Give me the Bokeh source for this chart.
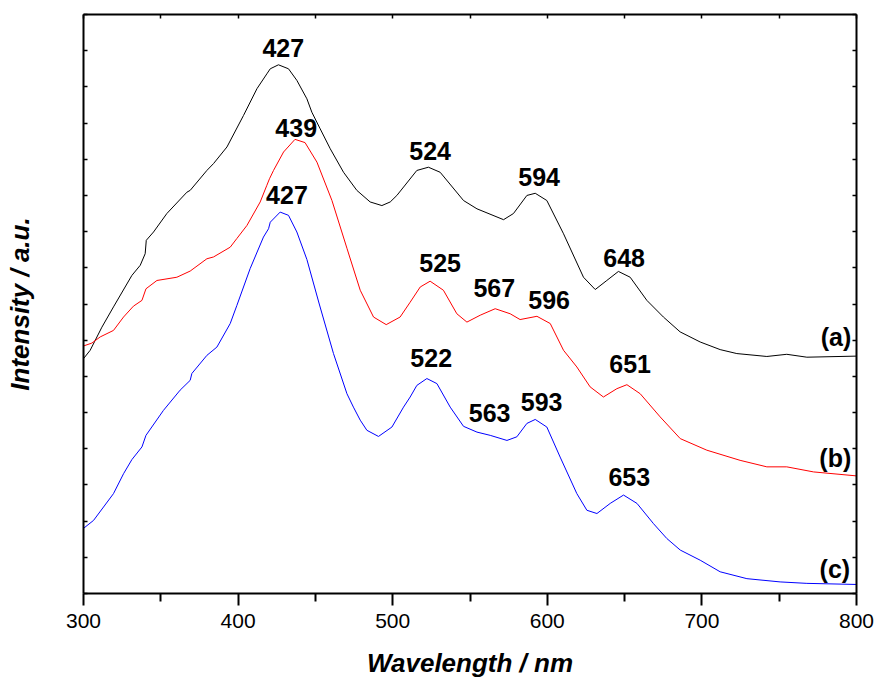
from bokeh.plotting import figure
from bokeh.models import Range1d, LinearAxis, FixedTicker, ColumnDataSource
from bokeh.core.properties import value
from bokeh.embed import file_html
from bokeh.resources import INLINE

# ---- data (wavelength in nm, intensity in a.u., curves offset) ----
wl_a = [300, 304.3, 311.9, 319.4, 331.3, 336.7, 339.9, 340.6, 345.3, 353.9, 366.9, 369.0,
        379.8, 384.1, 392.8, 403.5, 412.2, 418.6, 420.8, 426.1, 432.6, 438.0, 444.5, 447.7,
        453.1, 459.6, 468.2, 476.8, 485.4, 493.0, 498.4, 502.7, 515.6, 523.1, 530.7, 545.8,
        554.5, 571.7, 578.1, 586.8, 592.2, 599.7, 610.5, 623.4, 631.0, 638.5, 646.0, 653.6,
        664.4, 675.1, 685.9, 698.9, 711.8, 722.6, 742.0, 754.9, 767.9, 800]
int_a = [6.49, 6.72, 7.36, 7.92, 8.79, 9.07, 9.39, 9.76, 9.99, 10.50, 11.09, 11.14,
         11.69, 11.88, 12.34, 13.21, 13.95, 14.36, 14.50, 14.61, 14.50, 14.18, 13.67, 13.30,
         12.84, 12.29, 11.64, 11.14, 10.82, 10.72, 10.82, 11.00, 11.69, 11.78, 11.64, 10.86,
         10.63, 10.33, 10.50, 11.00, 11.06, 10.86, 9.94, 8.74, 8.40, 8.65, 8.90, 8.74,
         8.10, 7.64, 7.23, 6.95, 6.74, 6.63, 6.55, 6.61, 6.53, 6.56]

wl_b = [300, 305.4, 310.8, 319.4, 325.9, 332.3, 337.8, 340.4, 347.5, 360.4, 369.0, 379.8,
        384.1, 394.9, 399.2, 405.7, 414.3, 418.6, 420.3, 422.9, 429.4, 436.8, 443.3, 451.0,
        460.7, 470.4, 479.0, 487.6, 495.8, 504.8, 511.3, 517.8, 524.2, 532.8, 541.5, 548.0,
        556.6, 566.3, 576.0, 582.4, 593.3, 601.9, 610.5, 619.1, 627.7, 636.3, 645.0, 651.5,
        660.1, 673.0, 686.0, 703.2, 724.7, 742.0, 754.9, 772.2, 800]
int_b = [6.84, 6.92, 7.09, 7.27, 7.64, 7.94, 8.10, 8.42, 8.65, 8.74, 8.91, 9.25,
         9.30, 9.57, 9.81, 10.17, 10.82, 11.28, 11.46, 11.69, 12.20, 12.55, 12.46, 11.92,
         10.86, 9.54, 8.38, 7.64, 7.43, 7.64, 8.05, 8.47, 8.63, 8.38, 7.73, 7.50,
         7.69, 7.87, 7.73, 7.57, 7.66, 7.46, 6.72, 6.26, 5.71, 5.43, 5.66, 5.77,
         5.52, 4.88, 4.28, 3.96, 3.68, 3.50, 3.50, 3.36, 3.25]

wl_c = [300, 306.5, 319.4, 325.9, 331.3, 337.8, 340.4, 351.7, 362.5, 369.0, 370.1, 379.8,
        386.3, 394.9, 399.2, 407.8, 416.4, 419.7, 420.8, 427.2, 432.6, 438.0, 444.5, 452.5,
        461.7, 470.4, 474.6, 479.0, 483.3, 490.8, 499.5, 507.0, 511.3, 515.6, 522.1, 528.6,
        537.2, 545.8, 554.5, 563.1, 573.9, 580.3, 586.8, 592.2, 599.7, 608.3, 619.1, 625.6,
        632.1, 640.7, 649.3, 658.0, 668.7, 677.3, 686.0, 698.9, 711.8, 729.1, 750.6, 767.9, 800]
int_c = [1.80, 2.02, 2.76, 3.31, 3.70, 4.05, 4.37, 5.06, 5.62, 5.89, 6.08, 6.58,
         6.81, 7.46, 7.96, 8.98, 9.85, 10.08, 10.26, 10.54, 10.45, 9.99, 9.23, 8.00,
         6.63, 5.52, 5.15, 4.79, 4.51, 4.34, 4.60, 5.15, 5.43, 5.75, 5.94, 5.80,
         5.15, 4.62, 4.46, 4.37, 4.23, 4.33, 4.70, 4.81, 4.60, 3.77, 2.76, 2.30,
         2.21, 2.49, 2.72, 2.49, 1.93, 1.52, 1.20, 0.92, 0.60, 0.41, 0.32, 0.28, 0.25]

peak_text = ["427", "439", "427", "524", "594", "648", "525", "567", "596",
             "522", "563", "593", "651", "653"]
peak_x = [429.2, 437.6, 431.6, 524.2, 594.7, 649.7, 530.7, 565.7, 601.2,
          524.9, 562.7, 596.3, 653.6, 653.0]
peak_y = [15.08, 12.87, 11.02, 12.24, 11.52, 9.28, 9.12, 8.43, 8.12,
          6.52, 5.00, 5.28, 6.33, 3.21]

curve_text = ["(a)", "(b)", "(c)"]
curve_x = [796.6, 796.6, 795.9]
curve_y = [7.10, 3.74, 0.69]

x_major = [300, 400, 500, 600, 700, 800]
x_minor = [350, 450, 550, 650, 750]
x_all = [300, 350, 400, 450, 500, 550, 600, 650, 700, 750, 800]
y_ticks = list(range(0, 17))

FONT = "Liberation Sans"

p = figure(width=879, height=680, output_backend="svg", toolbar_location=None,
           x_range=Range1d(300, 800), y_range=Range1d(0, 16),
           min_border_left=83, min_border_right=23, min_border_top=14, min_border_bottom=87)
p.outline_line_color = None
p.xgrid.visible = False
p.ygrid.visible = False
p.background_fill_color = "white"
p.border_fill_color = "white"

# bottom axis
xa = p.xaxis[0]
xa.ticker = FixedTicker(ticks=x_major, minor_ticks=x_minor)
xa.axis_line_width = 2
xa.major_tick_line_width = 2
xa.minor_tick_line_width = 2
xa.major_tick_in = 0
xa.major_tick_out = 12
xa.minor_tick_in = 0
xa.minor_tick_out = 8
xa.major_label_text_font = FONT
xa.major_label_text_font_size = "21px"
xa.major_label_text_color = "black"
xa.major_label_standoff = 8
xa.axis_label = "Wavelength / nm"
xa.axis_label_text_font = FONT
xa.axis_label_text_font_size = "26px"
xa.axis_label_text_font_style = "bold italic"
xa.axis_label_text_color = "black"
xa.axis_label_standoff = 17

# left axis
ya = p.yaxis[0]
ya.ticker = FixedTicker(ticks=[], minor_ticks=y_ticks)
ya.axis_line_width = 2
ya.minor_tick_line_width = 1.5
ya.minor_tick_in = 4
ya.minor_tick_out = 0
ya.major_tick_in = 0
ya.major_tick_out = 0
ya.axis_label = "Intensity / a.u."
ya.axis_label_text_font = FONT
ya.axis_label_text_font_size = "26px"
ya.axis_label_text_font_style = "bold italic"
ya.axis_label_text_color = "black"
ya.axis_label_standoff = 49

# top axis
ta = LinearAxis(ticker=FixedTicker(ticks=[], minor_ticks=x_all))
ta.axis_line_width = 2
ta.minor_tick_line_width = 1.5
ta.minor_tick_in = 4
ta.minor_tick_out = 0
ta.major_tick_in = 0
ta.major_tick_out = 0
p.add_layout(ta, "above")

# right axis
ra = LinearAxis(ticker=FixedTicker(ticks=[], minor_ticks=y_ticks))
ra.axis_line_width = 2
ra.minor_tick_line_width = 1.5
ra.minor_tick_in = 4
ra.minor_tick_out = 0
ra.major_tick_in = 0
ra.major_tick_out = 0
p.add_layout(ra, "right")

p.line(wl_a, int_a, line_color="black", line_width=1)
p.line(wl_b, int_b, line_color="#ff0000", line_width=1)
p.line(wl_c, int_c, line_color="#0000ff", line_width=1)

src_peaks = ColumnDataSource(dict(x=peak_x, y=peak_y, t=peak_text))
p.text(x="x", y="y", text="t", source=src_peaks, text_font=value(FONT),
       text_font_style="bold", text_font_size="25px", text_align="center",
       text_baseline="alphabetic", text_color="black")

src_curves = ColumnDataSource(dict(x=curve_x, y=curve_y, t=curve_text))
p.text(x="x", y="y", text="t", source=src_curves, text_font=value(FONT),
       text_font_style="bold", text_font_size="25px", text_align="right",
       text_baseline="alphabetic", text_color="black")

open("out.html", "w").write(file_html(p, INLINE))
